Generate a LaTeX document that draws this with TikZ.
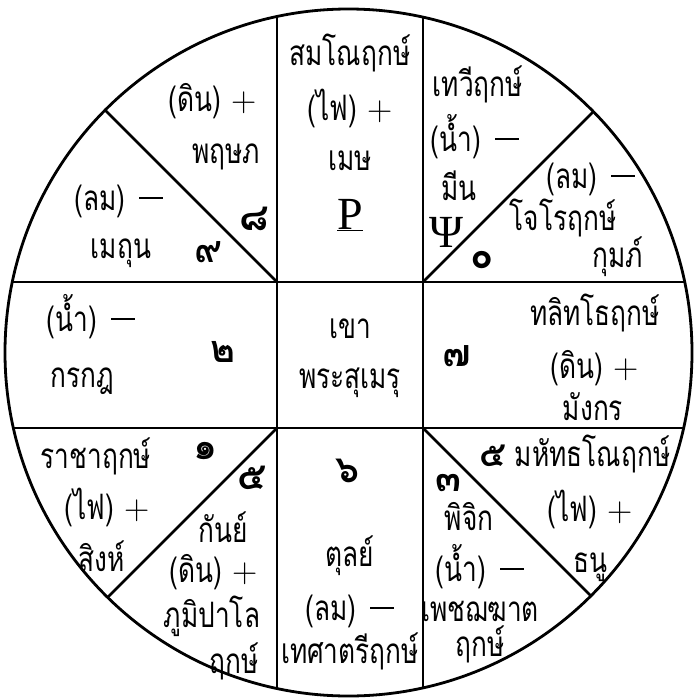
\documentclass[tikz,border=0pt]{standalone}
\usepackage{fontspec}
\newfontfamily\thai[Script=Thai,FakeStretch=0.75]{Loma}
\newfontfamily\thaidg[Script=Thai]{Loma}
\newfontfamily\serifsym{Liberation Serif}
\newcommand\thplus{\hspace{0.3em}{\rmfamily +}}
\newcommand\thminus{\hspace{0.4em}\rule[11.5pt]{24pt}{1.7pt}}
\begin{document}
\begin{tikzpicture}[x=1pt,y=-1pt,
  tx/.style={font=\thai\fontsize{35}{35}\selectfont, inner sep=0pt, anchor=base},
  num/.style={font=\thaidg\bfseries\fontsize{38}{38}\selectfont, inner sep=0pt, anchor=base},
  sym/.style={font=\serifsym\fontsize{46}{46}\selectfont, inner sep=0pt, anchor=base},
  ln/.style={line width=2.6pt}]
\useasboundingbox (0,0) rectangle (694,699);
\coordinate (c) at (348.5,352.5);
\begin{scope}
\clip (c) circle (343.5);
\draw[ln] (277,0) -- (277,699);
\draw[ln] (423,0) -- (423,699);
\draw[ln] (0,282) -- (694,282);
\draw[ln] (0,428) -- (694,428);
\draw[ln] (277,282) -- ++(-300,-300);
\draw[ln] (423,282) -- ++(300,-300);
\draw[ln] (277,428) -- ++(-300,300);
\draw[ln] (423,428) -- ++(300,300);
\end{scope}
\draw[line width=2.8pt] (c) circle (343.5);
% top centre
\node[tx] (a1) at (350,65) {สมโณฤกษ์};
\node[tx] (a2) at (350,120) {(ไฟ)\thplus};
\node[tx] (a3) at (350,170) {เมษ};
\node[sym] (a4) at (350,229) {\underline{P}};
% top-left upper
\node[tx] (b1) at (213,111) {(ดิน)\thplus};
\node[tx] (b2) at (226,163) {พฤษภ};
\node[num] (b3) at (254,230) {๘};
% top-left lower
\node[tx] (c1) at (119,210) {(ลม)\thminus};
\node[tx] (c2) at (121,258) {เมถุน};
\node[num] (c3) at (208,262) {๙};
% top-right upper
\node[tx] (d1) at (478,96) {เทวีฤกษ์};
\node[tx] (d2) at (475,151) {(น้ำ)\thminus};
\node[tx] (d3) at (459,200) {มีน};
\node[sym] (d4) at (446,247) {Ψ};
% top-right lower
\node[tx] (e1) at (591,188) {(ลม)\thminus};
\node[tx] (e2) at (563,230) {โจโรฤกษ์};
\node[tx] (e3) at (618,267) {กุมภ์};
\node[num] (e4) at (482,268) {๐};
% middle left
\node[tx] (f1) at (91,331) {(น้ำ)\thminus};
\node[tx] (f2) at (82,387) {กรกฎ};
\node[num] (f3) at (223,362) {๒};
% centre
\node[tx] (g1) at (350,338) {เขา};
\node[tx] (g2) at (350,388) {พระสุเมรุ};
% middle right
\node[tx] (h1) at (595,325) {ทลิทโธฤกษ์};
\node[tx] (h2) at (595,378) {(ดิน)\thplus};
\node[tx] (h3) at (593,420) {มังกร};
\node[num] (h4) at (457,366) {๗};
% bottom-left upper
\node[tx] (i1) at (96,468) {ราชาฤกษ์};
\node[tx] (i2) at (107,519) {(ไฟ)\thplus};
\node[tx] (i3) at (102,571) {สิงห์};
\node[num] (i4) at (206,459) {๑};
% bottom-left lower
\node[num] (j1) at (252,489) {๕};
\node[tx] (j2) at (223,542) {กันย์};
\node[tx] (j3) at (214,582) {(ดิน)\thplus};
\node[tx] (j4) at (212,627) {ภูมิปาโล};
\node[tx] (j5) at (234,673) {ฤกษ์};
% bottom centre
\node[num] (k1) at (348,482) {๖};
\node[tx] (k2) at (350,566) {ตุลย์};
\node[tx] (k3) at (350,620) {(ลม)\thminus};
\node[tx] (k4) at (350,663) {เทศาตรีฤกษ์};
% bottom-right upper
\node[tx] (l1) at (575,466) {{\thaidg\bfseries ๕} มหัทธโณฤกษ์};
\node[tx] (l2) at (590,521) {(ไฟ)\thplus};
\node[tx] (l3) at (590,572) {ธนู};
% bottom-right lower
\node[num] (m1) at (448,491) {๓};
\node[tx] (m2) at (469,530) {พิจิก};
\node[tx] (m3) at (480,581) {(น้ำ)\thminus};
\node[tx] (m4) at (480,621) {เพชฌฆาต};
\node[tx] (m5) at (480,656) {ฤกษ์};
\end{tikzpicture}
\end{document}
